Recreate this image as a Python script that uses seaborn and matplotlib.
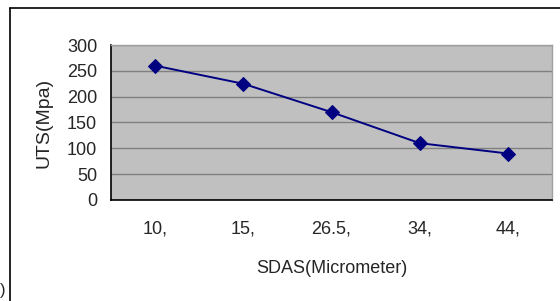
import numpy as np
import pandas as pd
import matplotlib
matplotlib.use("Agg")
import matplotlib.pyplot as plt
from matplotlib.lines import Line2D
from matplotlib.ticker import FixedLocator, NullFormatter
import seaborn as sns

# --- Data ---
sdas_labels = ["10,", "15,", "26.5,", "34,", "44,"]
uts_values = [260, 225, 170, 110, 90]
y_ticks = [0, 50, 100, 150, 200, 250, 300]

FS = 13

sns.set_style("white")
plt.rcParams['font.family'] = ['Liberation Sans', 'DejaVu Sans']

df = pd.DataFrame({"pos": np.arange(len(sdas_labels)), "uts": uts_values})

fig = plt.figure(figsize=(5.6, 3.01), dpi=100)
ax = fig.add_axes([111 / 560, 1 - 200 / 301, (552 - 111) / 560, (200 - 45) / 301])

sns.lineplot(data=df, x="pos", y="uts", ax=ax, color="#000080", linewidth=1.4,
             marker="D", markersize=7, markeredgecolor="#000080")

ax.set_facecolor("#c0c0c0")
ax.set_ylim(0, 300)
ax.set_xlim(-0.5, len(sdas_labels) - 0.5)
ax.set_yticks(y_ticks)
ax.set_yticklabels([str(v) for v in y_ticks], fontsize=FS)
ax.yaxis.grid(True, color="#808080", linewidth=1)
ax.set_axisbelow(True)

# category ticks on boundaries, labels in the middle
ax.xaxis.set_major_locator(FixedLocator(np.arange(-0.5, len(sdas_labels), 1.0)))
ax.xaxis.set_major_formatter(NullFormatter())
ax.xaxis.set_minor_locator(FixedLocator(df["pos"]))
ax.set_xticklabels(sdas_labels, minor=True, fontsize=FS)
ax.tick_params(axis="x", which="major", direction="out", length=5, width=1, color="black")
ax.tick_params(axis="x", which="minor", length=0, pad=15)
ax.tick_params(axis="y", direction="out", length=5, width=1, color="black", pad=5)

for side in ["top", "right"]:
    ax.spines[side].set_color("#a0a0a0")
    ax.spines[side].set_linewidth(1)
for side in ["left", "bottom"]:
    ax.spines[side].set_color("black")
    ax.spines[side].set_linewidth(1.2)

ax.set_xlabel("SDAS(Micrometer)", fontsize=FS, labelpad=16)
ax.set_ylabel("UTS(Mpa)", fontsize=14, labelpad=10)

# outer chart frame (partially visible)
fig.add_artist(Line2D([10 / 560, 10 / 560], [0, 1 - 8 / 301], color="black", linewidth=1.2,
                      transform=fig.transFigure))
fig.add_artist(Line2D([10 / 560, 1], [1 - 8 / 301, 1 - 8 / 301], color="black", linewidth=1.2,
                      transform=fig.transFigure))
fig.text(0.0, 1 - 290 / 301, ")", fontsize=12, va="center", ha="left")

fig.savefig("out.png", dpi=100)
